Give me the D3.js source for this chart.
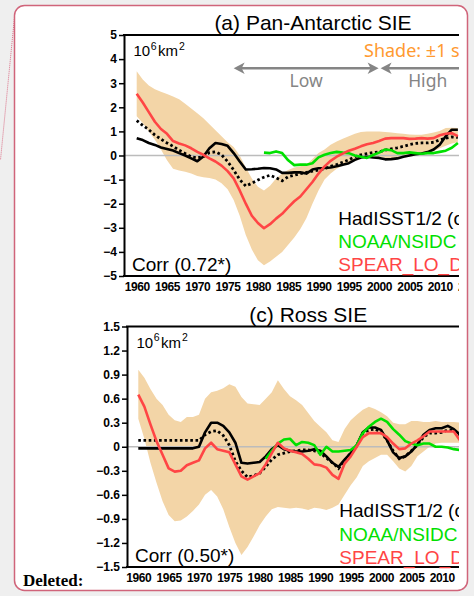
<!DOCTYPE html>
<html>
<head>
<meta charset="utf-8">
<script src="https://cdn.jsdelivr.net/npm/d3@7"></script>
<style>
  html, body { margin: 0; padding: 0; background: #efefef; }
  svg { display: block; }
</style>
</head>
<body>
<svg id="fig" width="474" height="596" font-family="Liberation Sans, Arial, Helvetica, sans-serif"></svg>
<script>
// ---------- data ----------
const years = [1960,1961,1962,1963,1964,1965,1966,1967,1968,1969,
               1970,1971,1972,1973,1974,1975,1976,1977,1978,1979,
               1980,1981,1982,1983,1984,1985,1986,1987,1988,1989,
               1990,1991,1992,1993,1994,1995,1996,1997,1998,1999,
               2000,2001,2002,2003,2004,2005,2006,2007,2008,2009,
               2010,2011,2012,2013];
const xTickYears = [1960,1965,1970,1975,1980,1985,1990,1995,2000,2005,2010,2015];

// (a) Pan-Antarctic SIE anomalies, 10^6 km^2
const panHad = [0.72,0.64,0.52,0.44,0.33,0.27,0.21,0.10,0.00,-0.12,
                -0.24,-0.04,0.30,0.52,0.48,0.40,0.10,-0.25,-0.58,-0.57,
                -0.55,-0.52,-0.53,-0.58,-0.72,-0.72,-0.70,-0.70,-0.75,-0.58,
                -0.53,-0.52,-0.50,-0.45,-0.38,-0.32,-0.18,-0.08,-0.05,-0.08,
                -0.10,-0.16,-0.15,-0.12,-0.05,0.00,0.05,0.08,0.14,0.25,
                0.45,0.80,1.07,1.07];
const panHadDot = [1.45,1.25,1.07,0.85,0.68,0.52,0.38,0.22,0.08,-0.05,
                   -0.10,-0.05,0.12,0.15,0.03,-0.25,-0.60,-1.00,-1.27,-1.15,
                   -1.02,-0.90,-0.82,-0.92,-1.05,-0.88,-0.82,-0.75,-0.70,-0.65,
                   -0.60,-0.55,-0.45,-0.38,-0.28,-0.18,-0.05,0.03,0.08,0.12,
                   0.15,0.22,0.28,0.32,0.38,0.45,0.50,0.52,0.52,0.55,
                   0.65,0.72,0.77,0.75];
const panNsidc = [null,null,null,null,null,null,null,null,null,null,
                  null,null,null,null,null,null,null,null,null,null,
                  null,0.12,0.10,0.17,0.10,-0.20,-0.40,-0.38,-0.38,-0.32,
                  -0.08,0.03,0.10,0.15,0.12,0.10,0.00,-0.05,-0.10,0.02,
                  0.12,0.25,0.22,0.10,0.10,0.13,0.10,0.07,0.10,0.10,
                  0.15,0.20,0.32,0.52];
const panSpear = [2.56,2.20,1.80,1.40,1.10,0.90,0.60,0.50,0.42,0.30,
                  0.15,0.03,-0.12,-0.25,-0.42,-0.65,-0.95,-1.45,-2.00,-2.50,
                  -2.80,-3.02,-2.85,-2.62,-2.42,-2.15,-1.90,-1.70,-1.40,-1.10,
                  -0.75,-0.45,-0.22,-0.05,0.08,0.20,0.28,0.38,0.47,0.52,
                  0.60,0.70,0.72,0.72,0.72,0.69,0.70,0.72,0.70,0.72,
                  0.84,0.90,0.93,0.80];
const panSpearHi = [3.50,3.15,2.90,2.75,2.65,2.55,2.45,2.33,2.15,1.95,
                    1.75,1.55,1.30,1.05,0.80,0.55,0.35,0.00,-0.50,-0.95,
                    -1.30,-1.45,-1.25,-0.95,-0.75,-0.60,-0.50,-0.45,-0.38,-0.15,
                    0.10,0.25,0.45,0.58,0.70,0.80,0.90,0.97,1.00,1.00,
                    1.00,0.97,0.95,0.92,0.90,0.87,0.86,0.86,0.90,0.95,
                    1.02,1.14,1.15,1.14];
const panSpearLo = [1.63,1.35,1.00,0.65,0.25,-0.20,-0.55,-0.62,-0.67,-0.75,
                    -0.85,-0.90,-0.93,-1.00,-1.15,-1.40,-1.85,-2.50,-3.30,-3.90,
                    -4.35,-4.55,-4.40,-4.20,-4.00,-3.70,-3.40,-3.05,-2.60,-2.00,
                    -1.45,-1.00,-0.75,-0.55,-0.42,-0.32,-0.20,-0.12,-0.08,-0.05,
                    -0.05,-0.10,-0.15,-0.12,-0.08,-0.05,0.00,0.05,0.10,0.18,
                    0.30,0.40,0.50,0.55];
const panTicks = [-5,-4,-3,-2,-1,0,1,2,3,4,5];
const panCorr = "Corr (0.72*)";

// (c) Ross SIE anomalies, 10^6 km^2
const rossHad = [-0.02,-0.02,-0.02,-0.02,-0.02,-0.02,-0.02,-0.02,-0.02,-0.02,
                 0.00,0.18,0.30,0.30,0.26,0.18,0.05,-0.20,-0.21,-0.20,
                 -0.19,-0.12,-0.03,0.02,-0.03,-0.05,-0.06,-0.06,-0.05,-0.03,
                 -0.05,-0.12,-0.20,-0.25,-0.16,-0.08,0.02,0.18,0.24,0.24,
                 0.21,0.08,-0.07,-0.14,-0.12,-0.06,0.03,0.15,0.21,0.23,
                 0.23,0.26,0.22,0.15];
const rossHadDot = [0.08,0.08,0.08,0.08,0.08,0.08,0.08,0.08,0.08,0.08,
                    0.08,0.15,0.19,0.20,0.14,0.02,-0.18,-0.30,-0.38,-0.36,
                    -0.33,-0.25,-0.16,-0.10,-0.08,-0.06,-0.05,-0.04,-0.04,-0.05,
                    -0.08,-0.14,-0.20,-0.27,-0.17,-0.08,0.01,0.17,0.21,0.22,
                    0.18,0.08,-0.05,-0.15,-0.12,-0.05,0.02,0.12,0.17,0.17,
                    0.18,0.21,0.20,0.15];
const rossNsidc = [null,null,null,null,null,null,null,null,null,null,
                   null,null,null,null,null,null,null,null,null,null,
                   null,-0.15,-0.05,0.04,0.09,0.10,0.02,0.06,0.05,0.02,
                   -0.10,0.00,-0.06,-0.06,-0.05,-0.04,0.02,0.17,0.25,0.31,
                   0.35,0.31,0.22,0.15,0.07,0.04,0.02,0.04,0.04,0.00,
                   0.00,-0.01,-0.03,-0.04];
const rossSpear = [0.65,0.50,0.28,0.07,-0.10,-0.27,-0.31,-0.30,-0.23,-0.20,
                   -0.17,-0.02,0.05,-0.03,-0.05,-0.07,-0.22,-0.37,-0.41,-0.37,
                   -0.33,-0.22,-0.08,0.05,-0.02,-0.05,-0.07,-0.09,-0.15,-0.22,
                   -0.23,-0.26,-0.35,-0.40,-0.21,-0.12,0.00,0.12,0.17,0.17,
                   0.17,0.12,0.04,-0.03,-0.02,0.04,0.08,0.13,0.19,0.19,
                   0.19,0.19,0.19,0.08];
const rossSpearHi = [0.96,0.86,0.72,0.60,0.52,0.40,0.33,0.31,0.37,0.37,
                     0.40,0.60,0.68,0.70,0.73,0.78,0.75,0.62,0.54,0.53,
                     0.52,0.60,0.68,0.83,0.72,0.63,0.58,0.52,0.42,0.32,
                     0.25,0.18,0.08,0.06,0.22,0.33,0.40,0.46,0.50,0.47,
                     0.43,0.38,0.30,0.28,0.28,0.32,0.32,0.31,0.31,0.32,
                     0.31,0.31,0.31,0.30];
const rossSpearLo = [0.35,0.10,-0.20,-0.45,-0.68,-0.85,-0.93,-0.92,-0.87,-0.80,
                     -0.72,-0.60,-0.54,-0.62,-0.78,-1.00,-1.20,-1.35,-1.25,-1.12,
                     -0.98,-0.87,-0.78,-0.75,-0.76,-0.77,-0.76,-0.77,-0.79,-0.76,
                     -0.77,-0.79,-0.76,-0.72,-0.60,-0.48,-0.38,-0.24,-0.18,-0.14,
                     -0.10,-0.10,-0.18,-0.27,-0.31,-0.24,-0.12,-0.06,0.00,0.04,
                     0.05,0.05,0.05,0.05];
const rossTicks = [-1.5,-1.2,-0.9,-0.6,-0.3,0,0.3,0.6,0.9,1.2,1.5];
const rossCorr = "Corr (0.50*)";

// legend entries and period arrows
const legendNames = ["HadISST1/2 (obs)", "NOAA/NSIDC CDR", "SPEAR_LO_DA"];
const legendColors = ["#000000", "#00e000", "#ff4545"];
const lowPeriod = [1976, 2000];
const highPeriod = [2000, 2020];

// ---------- drawing ----------
const svg = d3.select("#fig");
const shadeColor = "#f3d5a7";
const sansFont = "Liberation Sans, Arial, Helvetica, sans-serif";
const softFont = "Noto Sans, Open Sans, sans-serif";

// document card
svg.append("line")
  .attr("x1", 14.5).attr("y1", 17).attr("x2", 0.5).attr("y2", 160)
  .attr("stroke", "#dc7088").attr("stroke-width", 1).attr("stroke-dasharray", "1,1");
svg.append("rect")
  .attr("x", 14.5).attr("y", 5.5).attr("width", 453).attr("height", 585)
  .attr("rx", 10).attr("ry", 10)
  .attr("fill", "#ffffff").attr("stroke", "#d0647a").attr("stroke-width", 1.5);

svg.append("text").attr("x", 23).attr("y", 586)
  .attr("font-family", "Liberation Serif, Times New Roman, serif")
  .attr("font-weight", "bold").attr("font-size", 17)
  .text("Deleted:");

svg.append("defs").append("clipPath").attr("id", "figClip")
  .append("rect").attr("x", 0).attr("y", 0).attr("width", 459).attr("height", 596);
const chart = svg.append("g").attr("clip-path", "url(#figClip)");

function styleTicks(sel) {
  sel.attr("font-family", sansFont).attr("font-size", 12).attr("font-weight", "bold");
  sel.selectAll("text")
    .attr("fill", "#000")
    .attr("font-family", sansFont)
    .attr("font-size", 12)
    .attr("font-weight", "bold");
}

function drawPanel(cfg) {
  const g = chart.append("g");
  const x = d3.scaleLinear().domain([1960, 2010]).range(cfg.xRange);
  const y = d3.scaleLinear().domain(cfg.yDomain).range(cfg.yRange);
  const [yBot, yTop] = cfg.yRange;
  const right = 470;

  // ensemble spread
  const band = d3.area()
    .x((d, i) => x(years[i]))
    .y0((d, i) => y(cfg.lo[i]))
    .y1((d, i) => y(cfg.hi[i]));
  g.append("path").datum(cfg.hi).attr("d", band).attr("fill", shadeColor);

  // zero reference
  g.append("line")
    .attr("x1", cfg.axisX).attr("x2", right)
    .attr("y1", y(0)).attr("y2", y(0))
    .attr("stroke", "#bcbcbc").attr("stroke-width", 1.3);

  const line = d3.line()
    .defined(d => d !== null)
    .x((d, i) => x(years[i]))
    .y(d => y(d));

  g.append("path").datum(cfg.dot).attr("d", line)
    .attr("fill", "none").attr("stroke", "#000").attr("stroke-width", 2.8)
    .attr("stroke-dasharray", "2.6,2.6");
  g.append("path").datum(cfg.had).attr("d", line)
    .attr("fill", "none").attr("stroke", "#000").attr("stroke-width", 2.6)
    .attr("stroke-linejoin", "round");
  g.append("path").datum(cfg.nsidc).attr("d", line)
    .attr("fill", "none").attr("stroke", legendColors[1]).attr("stroke-width", 2.6)
    .attr("stroke-linejoin", "round");
  g.append("path").datum(cfg.spear).attr("d", line)
    .attr("fill", "none").attr("stroke", legendColors[2]).attr("stroke-width", 2.6)
    .attr("stroke-linejoin", "round");

  // frame: top and bottom edges
  g.append("line").attr("x1", cfg.axisX - 1).attr("x2", right)
    .attr("y1", yTop).attr("y2", yTop).attr("stroke", "#000").attr("stroke-width", 2);
  g.append("line").attr("x1", cfg.axisX - 1).attr("x2", right)
    .attr("y1", yBot).attr("y2", yBot).attr("stroke", "#000").attr("stroke-width", 2);

  const yAxis = d3.axisLeft(y).tickValues(cfg.ticks).tickFormat(cfg.fmt)
    .tickSize(5).tickSizeOuter(0).tickPadding(2);
  const ya = g.append("g").attr("transform", `translate(${cfg.axisX},0)`).call(yAxis);
  ya.select(".domain").attr("stroke-width", 2).attr("stroke", "#000");
  ya.selectAll(".tick line").attr("stroke-width", 1.5);
  styleTicks(ya);

  const xAxis = d3.axisBottom(x).tickValues(xTickYears).tickFormat(d3.format("d"))
    .tickSize(0).tickPadding(6.8);
  const xa = g.append("g").attr("transform", `translate(0,${yBot})`).call(xAxis);
  xa.select(".domain").remove();
  styleTicks(xa);
  xa.selectAll("text").attr("letter-spacing", -0.4);

  // title
  g.append("text").attr("x", cfg.titleX).attr("y", yTop - 5)
    .attr("text-anchor", "middle").attr("font-size", 21)
    .text(cfg.title);

  // units
  const u = g.append("text").attr("x", cfg.axisX + 9.5).attr("y", yTop + 21)
    .attr("font-size", 15);
  u.append("tspan").text("10");
  u.append("tspan").attr("dx", 0.5).attr("dy", -6.5).attr("font-size", 10.5).text("6");
  u.append("tspan").attr("dx", 1.5).attr("dy", 6.5).text("km");
  u.append("tspan").attr("dx", 1).attr("dy", -6.5).attr("font-size", 10.5).text("2");

  // legend
  legendNames.forEach((name, i) => {
    g.append("text").attr("x", cfg.legendX).attr("y", cfg.legendY + i * 23.2)
      .attr("font-size", 19).attr("fill", legendColors[i]).text(name);
  });

  g.append("text").attr("x", cfg.axisX + 8).attr("y", yBot - 5.5)
    .attr("font-size", 19).text(cfg.corr);

  return { g, x, y };
}

const pa = drawPanel({
  xRange: [136.7, 439.7], yDomain: [-5, 5], yRange: [276, 35], axisX: 124,
  ticks: panTicks, fmt: d3.format("d"),
  lo: panSpearLo, hi: panSpearHi, had: panHad, dot: panHadDot, nsidc: panNsidc, spear: panSpear,
  title: "(a) Pan-Antarctic SIE", titleX: 313,
  legendX: 338.3, legendY: 225, corr: panCorr
});

drawPanel({
  xRange: [138.3, 441.7], yDomain: [-1.5, 1.5], yRange: [567, 326.5], axisX: 127,
  ticks: rossTicks, fmt: d => d === 0 ? "0" : d3.format(".1f")(d),
  lo: rossSpearLo, hi: rossSpearHi, had: rossHad, dot: rossHadDot, nsidc: rossNsidc, spear: rossSpear,
  title: "(c) Ross SIE", titleX: 308.3,
  legendX: 339.3, legendY: 517.3, corr: rossCorr
});

// shading note and period arrows in panel (a)
pa.g.append("text").attr("x", 364).attr("y", 57)
  .attr("font-family", softFont)
  .attr("font-size", 18).attr("fill", "#ff9a30")
  .text("Shade: \u00b11 std");

const arrowY = 68.3;
const gray = "#858585";
function arrowHead(xTip, dir) {
  const s = dir;  // -1 points left, +1 points right
  return `M${xTip},${arrowY} L${xTip - s * 11},${arrowY - 5.8} L${xTip - s * 8},${arrowY} L${xTip - s * 11},${arrowY + 5.8} Z`;
}
const xL0 = pa.x(lowPeriod[0]), xL1 = pa.x(lowPeriod[1]) - 0.5;
const xH0 = pa.x(highPeriod[0]) + 1.5, xH1 = pa.x(highPeriod[1]);
pa.g.append("line").attr("x1", xL0 + 4).attr("x2", xL1 - 4).attr("y1", arrowY).attr("y2", arrowY)
  .attr("stroke", gray).attr("stroke-width", 2.6);
pa.g.append("path").attr("d", arrowHead(xL0, -1)).attr("fill", gray);
pa.g.append("path").attr("d", arrowHead(xL1, 1)).attr("fill", gray);
pa.g.append("line").attr("x1", xH0 + 4).attr("x2", xH1).attr("y1", arrowY).attr("y2", arrowY)
  .attr("stroke", gray).attr("stroke-width", 2.6);
pa.g.append("path").attr("d", arrowHead(xH0, -1)).attr("fill", gray);

pa.g.append("text").attr("x", (xL0 + xL1) / 2).attr("y", 86.7).attr("text-anchor", "middle")
  .attr("font-family", softFont)
  .attr("font-size", 17.5).attr("fill", gray).text("Low");
pa.g.append("text").attr("x", 427.7).attr("y", 86.7).attr("text-anchor", "middle")
  .attr("font-family", softFont)
  .attr("font-size", 17.5).attr("fill", gray).text("High");
</script>
</body>
</html>
